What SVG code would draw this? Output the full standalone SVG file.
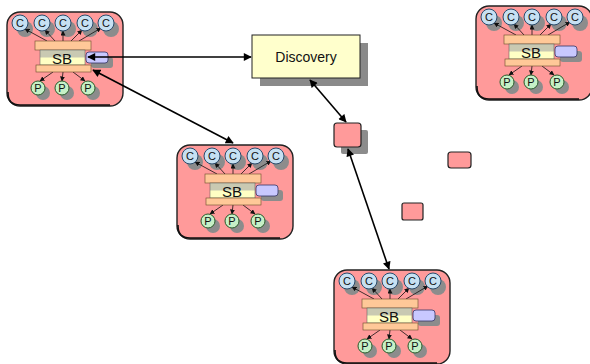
<svg xmlns="http://www.w3.org/2000/svg" width="590" height="364" viewBox="0 0 590 364">
  <style>
    .frame { fill: #ff9a9a; stroke: #222; stroke-width: 1.4; }
    .shade { fill: #8c8c8c; }
    .cc { fill: #c6e0f2; stroke: #2a4a6a; stroke-width: 1; }
    .pc { fill: #c6f0c6; stroke: #2a5a2a; stroke-width: 1; }
    .bar { fill: #ffc898; stroke: #6a4a2a; stroke-width: 0.6; }
    .tab { fill: #c8c8ff; stroke: #333366; stroke-width: 0.8; }
    .lbl { font-family: "Liberation Sans", Arial, sans-serif; fill: #111; }
    .cl { font-size: 11px; text-anchor: middle; }
    .sb { font-size: 15px; text-anchor: middle; }
    .in { stroke: #111; stroke-width: 0.8; fill: none; marker-end: url(#sm); }
    .link { stroke: #000; stroke-width: 1.6; fill: none; marker-start: url(#big); marker-end: url(#big); }
    .box { fill: #ff9a9a; stroke: #222; stroke-width: 1.2; }
  </style>
  <defs>
    <marker id="sm" viewBox="0 0 10 10" refX="9" refY="5" markerWidth="5" markerHeight="5" orient="auto" markerUnits="userSpaceOnUse">
      <path d="M0,0 L10,5 L0,10 z" fill="#111"/>
    </marker>
    <marker id="big" viewBox="0 0 10 10" refX="9" refY="5" markerWidth="9" markerHeight="8" orient="auto-start-reverse" markerUnits="userSpaceOnUse">
      <path d="M0,0 L10,5 L0,10 z" fill="#000"/>
    </marker>
    <!-- service bus node: consumers on top, providers below -->
    <g id="sbnode">
      <rect class="frame" x="0" y="0" width="116" height="94" rx="13"/>
      <path d="M1,80 L1,81 Q1,93 13,93 L103,93" fill="none" stroke="#111" stroke-width="1.6"/>
      <!-- shadows -->
      <g class="shade">
        <circle cx="18" cy="17" r="8"/>
        <circle cx="40" cy="17" r="8"/>
        <circle cx="61" cy="17" r="8"/>
        <circle cx="83" cy="17" r="8"/>
        <circle cx="104" cy="17" r="8"/>
        <rect x="84" y="45" width="22" height="11" rx="3"/>
        <circle cx="36" cy="81" r="7"/>
        <circle cx="60" cy="81" r="7"/>
        <circle cx="86" cy="81" r="7"/>
      </g>
      <!-- arrows out of the bus -->
      <path class="in" d="M40,29 L18,17"/>
      <path class="in" d="M48,29 L38,18"/>
      <path class="in" d="M56,29 L56,19"/>
      <path class="in" d="M64,29 L75,18"/>
      <path class="in" d="M72,29 L94,16"/>
      <path class="in" d="M46,60 L33,69"/>
      <path class="in" d="M56,60 L55,69"/>
      <path class="in" d="M66,60 L78,69"/>
      <!-- consumers -->
      <circle class="cc" cx="13" cy="11" r="8"/>
      <circle class="cc" cx="35" cy="11" r="8"/>
      <circle class="cc" cx="56" cy="11" r="8"/>
      <circle class="cc" cx="78" cy="11" r="8"/>
      <circle class="cc" cx="99" cy="11" r="8"/>
      <text class="lbl cl" x="13" y="15">C</text>
      <text class="lbl cl" x="35" y="15">C</text>
      <text class="lbl cl" x="56" y="15">C</text>
      <text class="lbl cl" x="78" y="15">C</text>
      <text class="lbl cl" x="99" y="15">C</text>
      <!-- bus body -->
      <rect class="bar" x="28" y="29" width="56" height="9"/>
      <rect x="33" y="38" width="45" height="8" fill="#c9c9b2"/>
      <rect x="33" y="45.5" width="45" height="7.5" fill="#ffffc4"/>
      <rect x="33" y="38" width="45" height="15" fill="none" stroke="#555" stroke-width="0.5"/>
      <rect class="tab" x="79" y="40" width="22" height="11" rx="3"/>
      <text class="lbl sb" x="55" y="51.5">SB</text>
      <rect class="bar" x="29" y="53" width="55" height="7"/>
      <!-- providers -->
      <circle class="pc" cx="31" cy="76" r="7"/>
      <circle class="pc" cx="55" cy="76" r="7"/>
      <circle class="pc" cx="81" cy="76" r="7"/>
      <text class="lbl cl" x="31" y="80">P</text>
      <text class="lbl cl" x="55" y="80">P</text>
      <text class="lbl cl" x="81" y="80">P</text>
    </g>
  </defs>

  <g id="node-sb1"><use href="#sbnode" x="7" y="12"/></g>
  <g id="node-sb2"><use href="#sbnode" x="177" y="145"/></g>
  <g id="node-sb3"><use href="#sbnode" x="476" y="6"/></g>
  <g id="node-sb4"><use href="#sbnode" x="334" y="270"/></g>

  <g id="node-discovery">
    <rect x="260" y="43" width="108" height="43" fill="#8a8a8a"/>
    <rect x="252" y="35" width="108" height="43" fill="#ffffcc" stroke="#222" stroke-width="1"/>
    <text class="lbl" x="306" y="62" font-size="14" text-anchor="middle">Discovery</text>
  </g>

  <g id="node-box1">
    <rect x="341" y="130" width="27" height="24" rx="2" class="shade"/>
    <rect class="box" x="334" y="123" width="27" height="24" rx="3"/>
  </g>
  <g id="node-box2">
    <rect class="box" x="448" y="152" width="23" height="16" rx="3"/>
  </g>
  <g id="node-box3">
    <rect class="box" x="402" y="203" width="21" height="17" rx="2"/>
  </g>

  <g id="connectors">
    <path class="link" d="M88,57 L251,57"/>
    <path class="link" d="M93,70 L233,143"/>
    <path class="link" d="M310,80 L346,122"/>
    <path class="link" d="M348,149 L389,269"/>
  </g>
</svg>
